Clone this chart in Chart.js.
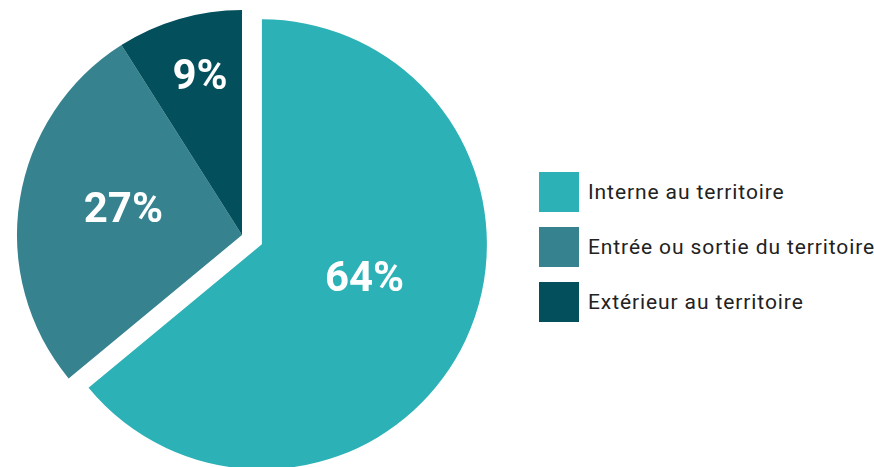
<!DOCTYPE html>
<html>
<head>
<meta charset="utf-8">
<script src="https://cdn.jsdelivr.net/npm/chart.js@4"></script>
<style>
  html, body { margin: 0; padding: 0; background: #fff; }
  #wrap { position: relative; width: 874px; height: 467px; overflow: hidden; }
  #chartBox { position: absolute; left: 0; top: 0; width: 520px; height: 467px; }
  #legend { position: absolute; left: 539px; top: 172px; font-family: Roboto, sans-serif; font-size: 21px; color: #222; letter-spacing: 0.9px; white-space: nowrap; }
  .item { display: flex; align-items: center; height: 40px; margin-bottom: 15px; }
  .box { width: 40px; height: 40px; margin-right: 9px; flex: none; }
</style>
</head>
<body>
<div id="wrap">
  <div id="chartBox"><canvas id="pieChart"></canvas></div>
  <div id="legend"></div>
</div>
<script>
const categories = ['Interne au territoire', 'Entrée ou sortie du territoire', 'Extérieur au territoire'];
const shares = [64, 27, 9];
const colors = ['#2cb1b6', '#36838f', '#034f5c'];
const pullOut = [22, 0, 0]; // px the slice is moved out along its middle
const labelDist = [0.48, 0.54, 0.73];
const labelTurn = [-7, 3.5, 1.4]; // degrees from the slice middle

// Legend
const legend = document.getElementById('legend');
categories.forEach(function(cat, i) {
    const row = document.createElement('div');
    row.className = 'item';
    row.innerHTML = '<div class="box" style="background:' + colors[i] + '"></div><span>' + cat + '</span>';
    legend.appendChild(row);
});

// move slices out without the radius growth of the built-in offset
const pullSlices = {
    id: 'pullSlices',
    beforeDatasetDraw(chart, args) {
        const ctx = chart.ctx;
        args.meta.data.forEach(function(arc, i) {
            const mid = (arc.startAngle + arc.endAngle) / 2;
            ctx.save();
            ctx.translate(Math.cos(mid) * pullOut[i], Math.sin(mid) * pullOut[i]);
            arc.draw(ctx);
            ctx.restore();
        });
        return false;
    }
};

// percent labels on slices
const sliceLabels = {
    id: 'sliceLabels',
    afterDatasetsDraw(chart) {
        const ctx = chart.ctx;
        const meta = chart.getDatasetMeta(0);
        ctx.save();
        ctx.fillStyle = '#fff';
        ctx.font = 'bold 42px Roboto, sans-serif';
        ctx.textAlign = 'center';
        ctx.textBaseline = 'middle';
        meta.data.forEach(function(arc, i) {
            const mid = (arc.startAngle + arc.endAngle) / 2;
            const cx = arc.x + Math.cos(mid) * pullOut[i];
            const cy = arc.y + Math.sin(mid) * pullOut[i];
            const a = mid + labelTurn[i] * Math.PI / 180;
            const r = arc.outerRadius * labelDist[i];
            ctx.fillText(shares[i] + '%', cx + Math.cos(a) * r, cy + Math.sin(a) * r + 2.5);
        });
        ctx.restore();
    }
};

const ctx = document.getElementById('pieChart').getContext('2d');
const pieChart = new Chart(ctx, {
    type: 'pie',
    data: {
        labels: categories,
        datasets: [{
            data: shares,
            backgroundColor: colors,
            borderWidth: 0,
            clip: false
        }]
    },
    options: {
        responsive: true,
        maintainAspectRatio: false,
        animation: false,
        radius: 225,
        layout: { padding: { left: 0, right: 36, top: 3, bottom: 0 } },
        plugins: {
            legend: { display: false },
            tooltip: { enabled: false }
        }
    },
    plugins: [pullSlices, sliceLabels]
});
</script>
</body>
</html>
